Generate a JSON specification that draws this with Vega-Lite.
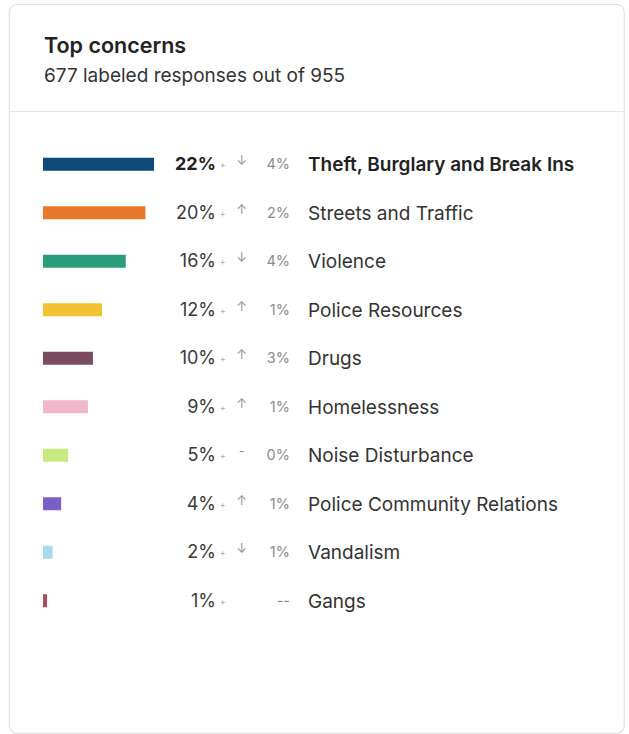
{
  "$schema": "https://vega.github.io/schema/vega-lite/v6.json",
  "autosize": "none",
  "padding": {"left": 9, "top": 4, "right": 5, "bottom": 1},
  "width": 615,
  "height": 729,
  "background": "#ffffff",
  "title": {
    "text": "Top concerns",
    "subtitle": "677 labeled responses out of 955",
    "anchor": "start",
    "frame": "group",
    "orient": "top",
    "offset": -82,
    "dx": 35,
    "font": "Inter",
    "fontSize": 21.5,
    "fontWeight": 600,
    "color": "#222222",
    "subtitleFont": "Inter",
    "subtitleFontSize": 19,
    "subtitleColor": "#333333",
    "subtitlePadding": 10
  },
  "config": {
    "view": {"stroke": "#e2e2e2", "strokeWidth": 1.2, "cornerRadius": 8},
    "text": {"font": "Inter"}
  },
  "data": {
    "values": [
      {"rank": 1, "name": "Theft, Burglary and Break Ins", "pct": 22.0, "pctLabel": "22%", "dir": "↓", "change": "4%"},
      {"rank": 2, "name": "Streets and Traffic", "pct": 20.3, "pctLabel": "20%", "dir": "↑", "change": "2%"},
      {"rank": 3, "name": "Violence", "pct": 16.4, "pctLabel": "16%", "dir": "↓", "change": "4%"},
      {"rank": 4, "name": "Police Resources", "pct": 11.7, "pctLabel": "12%", "dir": "↑", "change": "1%"},
      {"rank": 5, "name": "Drugs", "pct": 9.9, "pctLabel": "10%", "dir": "↑", "change": "3%"},
      {"rank": 6, "name": "Homelessness", "pct": 8.9, "pctLabel": "9%", "dir": "↑", "change": "1%"},
      {"rank": 7, "name": "Noise Disturbance", "pct": 5.0, "pctLabel": "5%", "dir": "-", "change": "0%"},
      {"rank": 8, "name": "Police Community Relations", "pct": 3.6, "pctLabel": "4%", "dir": "↑", "change": "1%"},
      {"rank": 9, "name": "Vandalism", "pct": 1.9, "pctLabel": "2%", "dir": "↓", "change": "1%"},
      {"rank": 10, "name": "Gangs", "pct": 0.8, "pctLabel": "1%", "dir": "", "change": "--"}
    ]
  },
  "encoding": {
    "y": {
      "field": "name",
      "type": "nominal",
      "sort": ["Theft, Burglary and Break Ins", "Streets and Traffic", "Violence", "Police Resources", "Drugs", "Homelessness", "Noise Disturbance", "Police Community Relations", "Vandalism", "Gangs"],
      "axis": null,
      "scale": {"paddingInner": 0, "paddingOuter": 0, "range": [136, 621]}
    }
  },
  "layer": [
    {
      "mark": {"type": "bar", "height": 13},
      "encoding": {
        "x": {
          "field": "pct",
          "type": "quantitative",
          "scale": {"domain": [-6.74, 115.16], "nice": false, "zero": false},
          "axis": {
            "orient": "top",
            "offset": -107,
            "title": null,
            "labels": false,
            "ticks": false,
            "grid": false,
            "domain": true,
            "domainColor": "#e6e6e6",
            "domainWidth": 1.2
          }
        },
        "color": {
          "field": "name",
          "type": "nominal",
          "legend": null,
          "scale": {
            "domain": ["Theft, Burglary and Break Ins", "Streets and Traffic", "Violence", "Police Resources", "Drugs", "Homelessness", "Noise Disturbance", "Police Community Relations", "Vandalism", "Gangs"],
            "range": ["#0d4a7c", "#e8792a", "#2b9c7c", "#f2c232", "#7b4c5f", "#f1b7ca", "#c8ea7e", "#7860c6", "#a9d9f2", "#b04b5b"]
          }
        }
      }
    },
    {
      "transform": [{"filter": "datum.rank != 1"}],
      "mark": {"type": "text", "align": "right", "baseline": "middle", "fontSize": 18, "color": "#3a3a3a", "dy": 1},
      "encoding": {"x": {"datum": 34.29, "type": "quantitative"}, "text": {"field": "pctLabel"}}
    },
    {
      "transform": [{"filter": "datum.rank == 1"}],
      "mark": {"type": "text", "align": "right", "baseline": "middle", "fontSize": 18, "fontWeight": 700, "color": "#222222", "dy": 1},
      "encoding": {"x": {"datum": 34.29, "type": "quantitative"}, "text": {"field": "pctLabel"}}
    },
    {
      "mark": {"type": "text", "align": "center", "baseline": "middle", "fontSize": 9, "color": "#aaaaaa", "text": "+", "dy": 1},
      "encoding": {"x": {"datum": 35.62, "type": "quantitative"}}
    },
    {
      "mark": {"type": "text", "align": "center", "baseline": "middle", "fontSize": 13, "color": "#999999", "dy": -3},
      "encoding": {"x": {"datum": 39.38, "type": "quantitative"}, "text": {"field": "dir"}}
    },
    {
      "mark": {"type": "text", "align": "right", "baseline": "middle", "fontSize": 14.5, "color": "#8c8c8c", "dy": 1},
      "encoding": {"x": {"datum": 48.96, "type": "quantitative"}, "text": {"field": "change"}}
    },
    {
      "transform": [{"filter": "datum.rank != 1"}],
      "mark": {"type": "text", "align": "left", "baseline": "middle", "fontSize": 19, "color": "#333333", "dy": 1},
      "encoding": {"x": {"datum": 52.53, "type": "quantitative"}, "text": {"field": "name"}}
    },
    {
      "transform": [{"filter": "datum.rank == 1"}],
      "mark": {"type": "text", "align": "left", "baseline": "middle", "fontSize": 19, "fontWeight": 600, "color": "#222222", "dy": 1},
      "encoding": {"x": {"datum": 52.53, "type": "quantitative"}, "text": {"field": "name"}}
    }
  ]
}
